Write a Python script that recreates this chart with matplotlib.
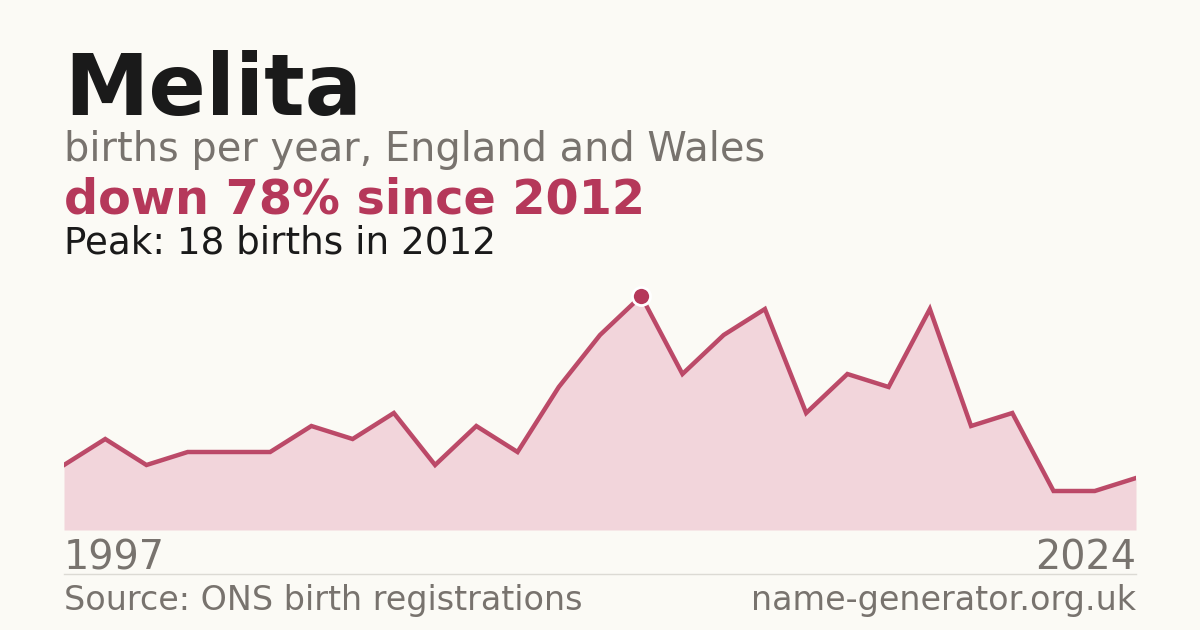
import numpy as np
import matplotlib.pyplot as plt

# Births per year for "Melita"
births = [5, 7, 5, 6, 6, 6, 8, 7, 9, 5, 8, 6, 11, 15, 18,
          12, 15, 17, 9, 12, 11, 17, 8, 9, 3, 3, 4]
first_year = "1997"
last_year = "2024"
peak_value = 18
peak_year = 2012

name = "Melita"
subtitle = "births per year, England and Wales"
trend = "down 78% since 2012"
peak_text = f"Peak: {peak_value} births in {peak_year}"
source = "Source: ONS birth registrations"
site = "name-generator.org.uk"

bg = "#fbfaf5"
accent = "#b5385a"
fill = "#f2d5db"
grey = "#78736e"
dark = "#1a1a1a"

W, H = 1200, 630
fig = plt.figure(figsize=(W / 100, H / 100), dpi=100, facecolor=bg)

# chart area: x 64..1136 px, baseline at y=530 px, 13 px per birth
left, right = 64 / W, 1136 / W
bottom = (H - 530) / H
ymax = 20
top_px = 530 - 13 * ymax
ax = fig.add_axes([left, bottom, right - left, (530 - top_px) / H])
ax.set_facecolor(bg)

x = np.arange(len(births))
ax.fill_between(x, births, 0, color=fill, lw=0)
ax.plot(x, births, color=accent, lw=3.2, solid_joinstyle="miter", alpha=0.9)

ipk = int(np.argmax(births))
ax.plot(x[ipk], births[ipk], "o", ms=13, mfc=accent, mec="white", mew=2, zorder=5)

ax.set_xlim(0, len(births) - 1)
ax.set_ylim(0, ymax)
ax.axis("off")

def px(xp, yp):
    return xp / W, 1 - yp / H

fig.text(*px(64, 115), name, fontsize=61, fontweight="bold", color=dark, va="baseline")
fig.text(*px(64, 161), subtitle, fontsize=28.7, color=grey, va="baseline")
fig.text(*px(64, 214), trend, fontsize=34.4, fontweight="bold", color=accent, va="baseline")
fig.text(*px(64, 254), peak_text, fontsize=26.8, color=dark, va="baseline")

fig.text(*px(64, 569), first_year, fontsize=28.6, color=grey, va="baseline")
fig.text(*px(1136, 569), last_year, fontsize=28.6, color=grey, va="baseline", ha="right")

fig.add_artist(plt.Line2D([64 / W, 1136 / W], [1 - 574 / H] * 2, color="#dcdad4", lw=1))

fig.text(*px(64, 610), source, fontsize=24, color=grey, va="baseline")
fig.text(*px(1136, 610), site, fontsize=24, color=grey, va="baseline", ha="right")

fig.savefig("out.png", dpi=100, facecolor=bg)
